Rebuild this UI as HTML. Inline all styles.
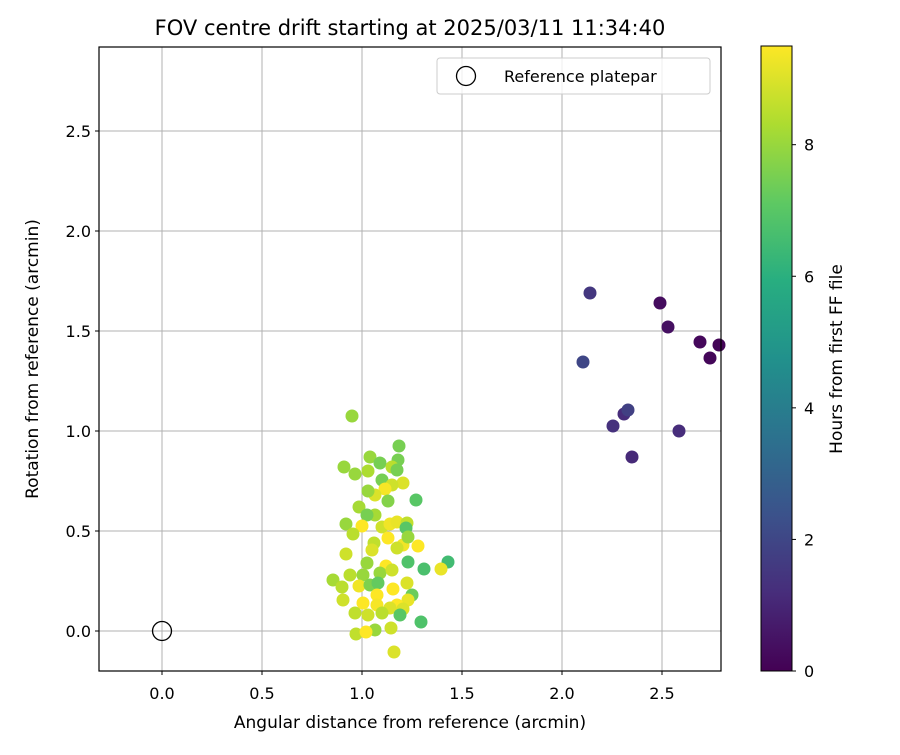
<!DOCTYPE html>
<html><head><meta charset="utf-8"><style>
body{margin:0;background:#fff;font-family:"Liberation Sans","DejaVu Sans",sans-serif}
svg text{font-family:"DejaVu Sans","Liberation Sans",sans-serif;fill:#000}
</style></head><body>
<svg id="c" width="900" height="750" xmlns="http://www.w3.org/2000/svg">
<defs><linearGradient id="vg" x1="0" y1="1" x2="0" y2="0">
<stop offset="0" stop-color="#440154"/><stop offset="0.125" stop-color="#472d7b"/><stop offset="0.25" stop-color="#3b528b"/><stop offset="0.375" stop-color="#2c728e"/><stop offset="0.5" stop-color="#21918c"/><stop offset="0.625" stop-color="#28ae80"/><stop offset="0.75" stop-color="#5ec962"/><stop offset="0.875" stop-color="#addc30"/><stop offset="1" stop-color="#fde725"/></linearGradient></defs>
<g id="grid"></g><g id="pts"></g><g id="axes"></g>
</svg>
<script>
const xs=[2.14,2.49,2.53,2.69,2.785,2.74,2.105,2.31,2.255,2.585,2.35,2.33,
0.95,1.185,1.04,1.09,1.18,0.91,1.15,1.175,0.965,1.03,1.10,1.205,1.15,1.115,1.065,1.03,1.13,1.27,0.985,1.065,1.025,0.92,1.0,0.955,1.1,1.14,1.175,1.225,1.22,1.13,1.205,1.28,1.175,1.23,1.06,1.05,0.92,1.23,1.31,1.43,1.395,1.12,1.025,1.09,1.15,0.94,0.855,1.005,0.9,0.985,1.04,1.08,1.225,1.155,1.25,0.905,1.23,1.075,1.005,1.075,1.175,1.14,1.205,0.965,1.03,1.1,1.19,1.295,1.145,0.97,1.065,1.02,1.16];
const ys=[1.69,1.64,1.52,1.445,1.43,1.365,1.345,1.085,1.025,1.0,0.87,1.105,
1.075,0.925,0.87,0.84,0.855,0.82,0.82,0.805,0.785,0.80,0.755,0.74,0.73,0.71,0.68,0.70,0.65,0.655,0.62,0.58,0.58,0.535,0.525,0.485,0.52,0.535,0.545,0.54,0.515,0.465,0.43,0.425,0.415,0.47,0.44,0.405,0.385,0.345,0.31,0.345,0.31,0.325,0.34,0.29,0.305,0.28,0.255,0.28,0.22,0.225,0.23,0.24,0.24,0.21,0.18,0.155,0.155,0.18,0.14,0.13,0.13,0.115,0.11,0.09,0.08,0.09,0.08,0.045,0.015,-0.015,0.005,-0.005,-0.105];
const hours=[1.5,0.3,0.4,0.2,0.1,0.15,2.0,1.2,1.3,1.2,1.1,1.8,
8,7.5,8,7.5,7.5,8,8.5,7.5,8,8.3,7.5,9,8.8,9.4,9,8,7.7,7,8.2,8.2,7.5,8,9.5,8.5,8.8,9.3,9.2,8.6,7,9.5,9.3,9.5,8.8,8,8.6,9,8.8,6.8,6.7,6.5,9.2,9.5,8,8,8.8,8.5,8.2,8,8.5,9.3,7.6,7.2,9,9.5,7.3,8.8,9.2,9.5,9.5,9.4,9.5,9,9,8.6,8.8,8.5,7,6.8,8.8,8.6,8,9.5,9];
const xTicks=[0,0.5,1,1.5,2,2.5];
const yTicks=[0,0.5,1,1.5,2,2.5];
const cTicks=[0,2,4,6,8];
const L=99,R=721,T=47,B=671,X0=-0.315,X1=2.795,Y0=-0.2,Y1=2.92,HMAX=9.5;
const sx=v=>L+(v-X0)/(X1-X0)*(R-L), sy=v=>B-(v-Y0)/(Y1-Y0)*(B-T);
const stops=[[68,1,84],[71,45,123],[59,82,139],[44,114,142],[33,145,140],[40,174,128],[94,201,98],[173,220,48],[253,231,37]];
function vir(t){t=Math.max(0,Math.min(1,t))*8;const i=Math.min(7,Math.floor(t)),f=t-i,a=stops[i],b=stops[i+1];return`rgb(${a.map((v,k)=>Math.round(v+(b[k]-v)*f)).join(',')})`;}
const NS='http://www.w3.org/2000/svg';
function mk(p,tag,at,txt){const e=document.createElementNS(NS,tag);for(const k in at)e.setAttribute(k,at[k]);if(txt!=null)e.textContent=txt;p.appendChild(e);return e;}
const svg=document.getElementById('c'),grid=document.getElementById('grid'),pts=document.getElementById('pts'),ax=document.getElementById('axes');
xTicks.forEach(t=>{const x=sx(t);
const g=mk(grid,'line',{x1:x,x2:x,y1:T,y2:B,stroke:'#b0b0b0','stroke-width':1});


mk(ax,'line',{x1:x,x2:x,y1:B,y2:B+4,stroke:'#000'});
const l=mk(ax,'text',{x:x,y:B+28,'text-anchor':'middle','font-size':16},t.toFixed(1));

});
yTicks.forEach(t=>{const y=sy(t);
const g=mk(grid,'line',{x1:L,x2:R,y1:y,y2:y,stroke:'#b0b0b0','stroke-width':1});


mk(ax,'line',{x1:L-4,x2:L,y1:y,y2:y,stroke:'#000'});
const l=mk(ax,'text',{x:L-8,y:y+6,'text-anchor':'end','font-size':16},t.toFixed(1));

});
xs.forEach((v,i)=>{const c=mk(pts,'circle',{cx:sx(v),cy:sy(ys[i]),r:6.5,fill:vir(hours[i]/HMAX)});

});
const ref=mk(pts,'circle',{cx:sx(0),cy:sy(0),r:9.5,fill:'none',stroke:'#000','stroke-width':1.3});


const fr=mk(ax,'rect',{x:L,y:T,width:R-L,height:B-T,fill:'none',stroke:'#000','stroke-width':1.2});


const ti=mk(ax,'text',{x:410,y:35,'text-anchor':'middle','font-size':21},'FOV centre drift starting at 2025/03/11 11:34:40');


const xl=mk(ax,'text',{x:410,y:728,'text-anchor':'middle','font-size':17},'Angular distance from reference (arcmin)');


const yl=mk(ax,'text',{x:38,y:359,'text-anchor':'middle','font-size':17,transform:'rotate(-90 38 359)'},'Rotation from reference (arcmin)');


const lg=mk(ax,'g',{});


mk(lg,'rect',{x:437,y:58,width:273,height:36,rx:3,fill:'#fff','fill-opacity':0.8,stroke:'#ccc'});
mk(lg,'circle',{cx:466,cy:76,r:9.5,fill:'none',stroke:'#000','stroke-width':1.3});
mk(lg,'text',{x:504,y:82,'font-size':16},'Reference platepar');
const cb=mk(ax,'rect',{x:761,y:46,width:31,height:625,fill:'url(#vg)',stroke:'#000','stroke-width':1});


cTicks.forEach(t=>{const y=671-t/HMAX*625;
mk(ax,'line',{x1:792,x2:796,y1:y,y2:y,stroke:'#000'});
const l=mk(ax,'text',{x:804,y:y+6,'font-size':16},String(t));

});
const cl=mk(ax,'text',{x:842,y:359,'text-anchor':'middle','font-size':17,transform:'rotate(-90 842 359)'},'Hours from first FF file');


</script>
</body></html>
